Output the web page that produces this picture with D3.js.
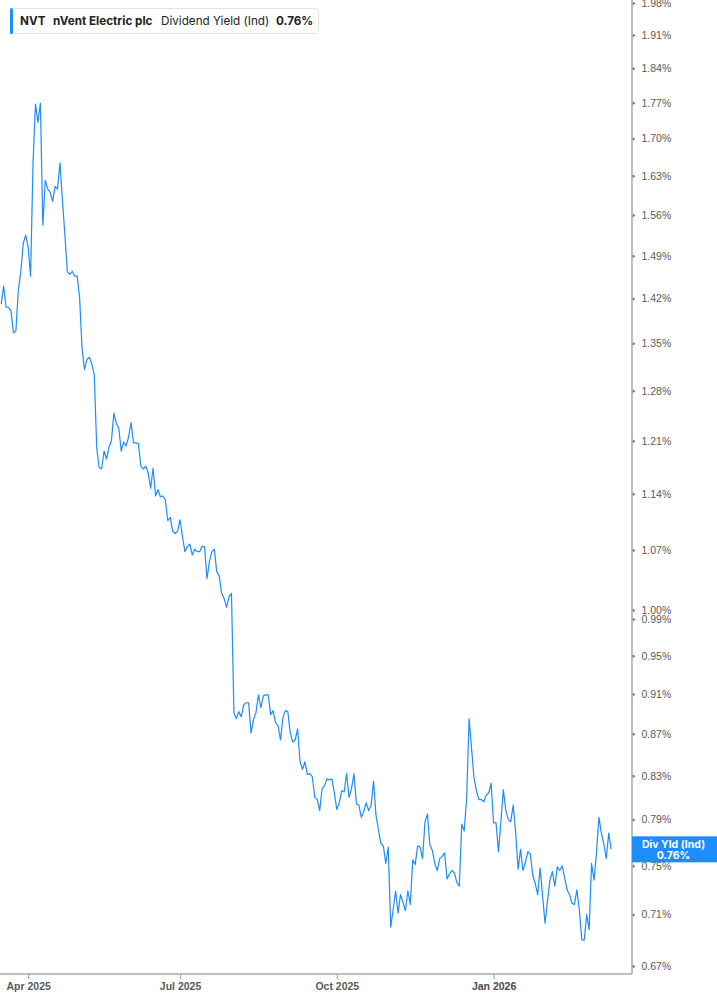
<!DOCTYPE html>
<html lang="en">
<head>
<meta charset="utf-8">
<title>NVT Dividend Yield</title>
<script src="https://cdn.jsdelivr.net/npm/d3@7"></script>
<style>
  body { margin: 0; background: #fff; }
  svg { font-family: Inter, "Liberation Sans", Arial, sans-serif; }
  .yaxis text { fill: #5a5a5a; font-size: 10.5px; }
  .xaxis text { fill: #5a5a5a; font-size: 10.5px; font-weight: 600; }
</style>
</head>
<body>
<script>

// dividend yield (%) by trading day, mid Mar 2025 .. Mar 2026
var yieldValues = [
  1.411, 1.440, 1.406, 1.406, 1.400, 1.366, 1.369, 1.434, 1.463, 1.511,
  1.525, 1.505, 1.456, 1.656, 1.767, 1.731, 1.769, 1.542, 1.622, 1.606,
  1.600, 1.584, 1.611, 1.606, 1.654, 1.586, 1.525, 1.463, 1.459, 1.464,
  1.456, 1.456, 1.422, 1.343, 1.311, 1.326, 1.329, 1.319, 1.303, 1.200,
  1.174, 1.172, 1.196, 1.185, 1.201, 1.210, 1.248, 1.234, 1.227, 1.196,
  1.208, 1.203, 1.215, 1.235, 1.207, 1.207, 1.206, 1.176, 1.172, 1.176,
  1.167, 1.147, 1.173, 1.137, 1.145, 1.136, 1.137, 1.132, 1.106, 1.110,
  1.093, 1.090, 1.093, 1.107, 1.086, 1.068, 1.074, 1.077, 1.064, 1.071,
  1.068, 1.068, 1.074, 1.074, 1.036, 1.056, 1.068, 1.071, 1.044, 1.039,
  1.019, 1.013, 1.003, 1.015, 1.019, 0.891, 0.885, 0.892, 0.887, 0.899,
  0.901, 0.901, 0.871, 0.884, 0.891, 0.909, 0.896, 0.908, 0.909, 0.909,
  0.889, 0.893, 0.881, 0.878, 0.864, 0.886, 0.893, 0.892, 0.871, 0.862,
  0.864, 0.875, 0.843, 0.836, 0.843, 0.831, 0.832, 0.829, 0.810, 0.808,
  0.798, 0.818, 0.821, 0.827, 0.826, 0.827, 0.814, 0.799, 0.805, 0.816,
  0.815, 0.832, 0.810, 0.818, 0.832, 0.804, 0.803, 0.792, 0.797, 0.805,
  0.798, 0.803, 0.825, 0.794, 0.781, 0.769, 0.767, 0.752, 0.766, 0.700,
  0.714, 0.729, 0.711, 0.726, 0.720, 0.713, 0.729, 0.718, 0.755, 0.751,
  0.767, 0.766, 0.756, 0.788, 0.795, 0.768, 0.763, 0.752, 0.746, 0.756,
  0.758, 0.761, 0.739, 0.743, 0.746, 0.744, 0.736, 0.733, 0.786, 0.780,
  0.809, 0.885, 0.856, 0.828, 0.816, 0.808, 0.808, 0.806, 0.812, 0.814,
  0.823, 0.787, 0.787, 0.762, 0.789, 0.817, 0.798, 0.790, 0.788, 0.803,
  0.779, 0.747, 0.764, 0.746, 0.753, 0.762, 0.760, 0.742, 0.735, 0.726,
  0.748, 0.725, 0.703, 0.721, 0.738, 0.745, 0.733, 0.749, 0.746, 0.750,
  0.740, 0.730, 0.726, 0.719, 0.718, 0.730, 0.714, 0.690, 0.690, 0.710,
  0.698, 0.752, 0.738, 0.761, 0.792, 0.778, 0.769, 0.756, 0.778, 0.764
];

var yTickValues = [1.98, 1.91, 1.84, 1.77, 1.70, 1.63, 1.56, 1.49, 1.42, 1.35,
                   1.28, 1.21, 1.14, 1.07, 1.00, 0.99, 0.95, 0.91, 0.87, 0.83,
                   0.79, 0.75, 0.71, 0.67];

// trading-day index of the first session of each labelled month
var xTickIndex = [11, 73, 137, 201];
var xTickLabels = ["Apr 2025", "Jul 2025", "Oct 2025", "Jan 2026"];

var ticker = "NVT";
var company = "nVent Electric plc";
var seriesName = "Dividend Yield (Ind)";
var shortName = "Div Yld (Ind)";

var W = 717, H = 1005;
var plotRight = 632, plotBottom = 974;
var blue = "#1e8cfa";

var svg = d3.select("body")
            .append("svg")
            .attr("width", W)
            .attr("height", H);

var x = d3.scaleLinear()
          .domain([0, 257.5])
          .range([1.2, plotRight]);

var y = d3.scaleLog()
          .domain([0.67, 1.98])
          .range([966, 3]);

// clip for the line
svg.append("defs").append("clipPath")
   .attr("id", "plotclip")
   .append("rect")
   .attr("x", 0).attr("y", 0)
   .attr("width", plotRight).attr("height", plotBottom);

var line = d3.line()
             .x(function(d, i) { return x(i); })
             .y(function(d) { return y(d); });

svg.append("path")
   .datum(yieldValues)
   .attr("clip-path", "url(#plotclip)")
   .attr("fill", "none")
   .attr("stroke", blue)
   .attr("stroke-width", 1.2)
   .attr("stroke-linejoin", "round")
   .attr("d", line);

//Y axis on the right

var yAxis = svg.append("g")
   .attr("class", "yaxis")
   .attr("transform", "translate(" + plotRight + ",0)")
   .call(d3.axisRight(y)
           .tickValues(yTickValues)
           .tickSize(0)
           .tickPadding(9.5)
           .tickFormat(function(d) { return d.toFixed(2) + "%"; }));

yAxis.select(".domain").remove();
yAxis.selectAll(".tick")
     .append("path")
     .attr("d", "M0.5,-2L3.5,0L0.5,2Z")
     .attr("fill", "#777");

//X axis

var xAxis = svg.append("g")
   .attr("class", "xaxis")
   .attr("transform", "translate(0," + plotBottom + ")")
   .call(d3.axisBottom(x)
           .tickValues(xTickIndex)
           .tickSize(5)
           .tickPadding(4)
           .tickFormat(function(d, i) { return xTickLabels[i]; }));

xAxis.select(".domain").remove();
xAxis.selectAll(".tick line").attr("stroke", "#a8a8a8").attr("stroke-width", 1.2);
xAxis.selectAll(".tick text")
     .filter(function(d, i) { return xTickLabels[i].indexOf("Jan") === 0; })
     .style("fill", "#4a4a4a")
     .style("font-weight", "700");

// frame lines
svg.append("line")
   .attr("x1", plotRight).attr("x2", plotRight)
   .attr("y1", 0).attr("y2", plotBottom)
   .attr("stroke", "#a8a8a8").attr("stroke-width", 1.5);

svg.append("line")
   .attr("x1", 0).attr("x2", plotRight)
   .attr("y1", plotBottom).attr("y2", plotBottom)
   .attr("stroke", "#a8a8a8").attr("stroke-width", 1.5);

// last value flag
var last = yieldValues[yieldValues.length - 1];
var ly = y(last);

svg.append("rect")
   .attr("x", plotRight)
   .attr("y", ly - 13)
   .attr("width", W - plotRight)
   .attr("height", 26)
   .attr("fill", blue);

svg.append("text")
   .attr("x", (plotRight + W) / 2 - 1)
   .attr("y", ly - 1)
   .attr("text-anchor", "middle")
   .attr("fill", "#fff")
   .style("font-size", "10.5px")
   .style("font-weight", "700")
   .text(shortName);

svg.append("text")
   .attr("x", (plotRight + W) / 2 - 1)
   .attr("y", ly + 10)
   .attr("text-anchor", "middle")
   .attr("fill", "#fff")
   .style("font-size", "10.5px")
   .style("font-weight", "700")
   .text(last.toFixed(2) + "%");

// header legend box
var head = svg.append("g");

head.append("rect")
    .attr("x", 10.5).attr("y", 8.5)
    .attr("width", 308).attr("height", 25)
    .attr("rx", 3)
    .attr("fill", "#fff")
    .attr("stroke", "#e4e4e4");

head.append("rect")
    .attr("x", 10).attr("y", 8)
    .attr("width", 3).attr("height", 26)
    .attr("rx", 1.5)
    .attr("fill", blue);

var headText = head.append("text")
    .attr("y", 25)
    .attr("fill", "#222")
    .style("font-size", "11.7px");

headText.append("tspan").attr("x", 20).style("font-weight", "700").text(ticker);
headText.append("tspan").attr("x", 53).style("font-weight", "700").text(company);
headText.append("tspan").attr("x", 161).style("font-weight", "400").text(seriesName);
headText.append("tspan").attr("x", 276).style("font-weight", "700").text(last.toFixed(2) + "%");

</script>
</body>
</html>
